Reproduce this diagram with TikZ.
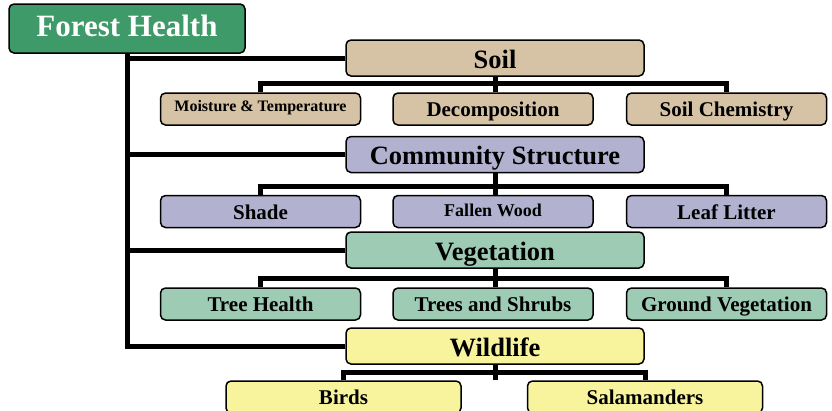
\documentclass[tikz,border=0pt]{standalone}
\usepackage{fontspec}
\setmainfont{Liberation Serif}
\usetikzlibrary{backgrounds}
\definecolor{rootgreen}{RGB}{62,154,104}
\definecolor{soiltan}{RGB}{214,195,166}
\definecolor{commblue}{RGB}{178,178,208}
\definecolor{veggreen}{RGB}{157,203,180}
\definecolor{wildyellow}{RGB}{248,244,158}
\begin{document}
\begin{tikzpicture}[x=1pt,y=-1pt,
  box/.style={draw,line width=1.5pt,rounded corners=5pt,inner sep=0pt,text depth=0pt},
  main/.style={box,minimum width=298pt,minimum height=36pt,text height=20pt,font=\bfseries\fontsize{26.5}{30}\selectfont},
  leaf/.style={box,minimum width=200pt,minimum height=32pt,text height=15pt,font=\bfseries\fontsize{21}{24}\selectfont},
  bus/.style={line width=5pt}]
  \useasboundingbox (0,0) rectangle (832,410);
  % root
  \node[box,fill=rootgreen,text=white,minimum width=236pt,minimum height=49pt,text height=16.4pt,
    font=\bfseries\fontsize{31}{34}\selectfont] (forest) at (127,28.5) {Forest Health};
  % main branches
  \node[main,fill=soiltan] (soil) at (495,58) {Soil};
  \node[main,fill=commblue] (comm) at (495,154.5) {Community Structure};
  \node[main,fill=veggreen] (veg) at (495,250) {Vegetation};
  \node[main,fill=wildyellow] (wild) at (495,346) {Wildlife};
  % soil
  \node[leaf,fill=soiltan,text height=5.4pt,font=\bfseries\fontsize{16}{19}\selectfont] (moist) at (260.5,109) {Moisture \& Temperature};
  \node[leaf,fill=soiltan] (decomp) at (493,109) {Decomposition};
  \node[leaf,fill=soiltan] (chem) at (726.5,109) {Soil Chemistry};
  % community structure
  \node[leaf,fill=commblue] (shade) at (260.5,211.5) {Shade};
  \node[leaf,fill=commblue,text height=9pt,font=\bfseries\fontsize{18}{21}\selectfont] (wood) at (493,211.5) {Fallen Wood};
  \node[leaf,fill=commblue] (litter) at (726.5,211.5) {Leaf Litter};
  % vegetation
  \node[leaf,fill=veggreen] (tree) at (260.5,304) {Tree Health};
  \node[leaf,fill=veggreen] (shrub) at (493,304) {Trees and Shrubs};
  \node[leaf,fill=veggreen] (ground) at (726.5,304) {Ground Vegetation};
  % wildlife
  \node[leaf,fill=wildyellow,minimum width=235pt] (birds) at (343.5,397) {Birds};
  \node[leaf,fill=wildyellow,minimum width=235pt] (sala) at (645,397) {Salamanders};
  \begin{scope}[on background layer]
    \draw[bus] (forest.south) |- (wild.west);
    \draw[bus] (forest.south |- soil.west) -- (soil.west);
    \draw[bus] (forest.south |- comm.west) -- (comm.west);
    \draw[bus] (forest.south |- veg.west) -- (veg.west);
    \draw[bus] (moist.north) -- ++(0,-8.5) -| (chem.north);
    \draw[bus] (soil.south) -- (soil.south |- decomp.north);
    \draw[bus] (shade.north) -- ++(0,-8.5) -| (litter.north);
    \draw[bus] (comm.south) -- (comm.south |- wood.north);
    \draw[bus] (tree.north) -- ++(0,-8.5) -| (ground.north);
    \draw[bus] (veg.south) -- (veg.south |- shrub.north);
    \draw[bus] (birds.north) -- ++(0,-8) -| (sala.north);
    \draw[bus] (wild.south) -- (wild.south |- birds.north);
  \end{scope}
\end{tikzpicture}
\end{document}
